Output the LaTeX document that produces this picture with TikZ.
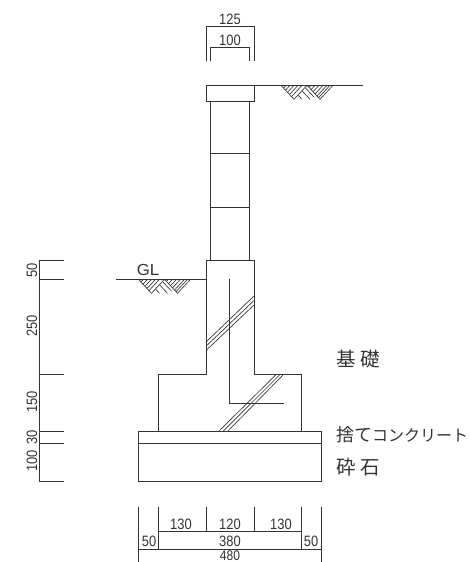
\documentclass[tikz,border=0pt]{standalone}
\usepackage{fontspec}
\newfontfamily\dimfont[FakeStretch=0.86]{Liberation Sans}
\newfontfamily\glfont[FakeStretch=1.05]{Liberation Sans}
\newfontfamily\cjk{Noto Sans CJK JP}
\definecolor{ln}{HTML}{333333}
\tikzset{
  ln/.style={draw=ln,line width=0.95pt},
  thin ln/.style={draw=ln,line width=0.65pt},
  dimtext/.style={inner sep=0pt,text=ln,font=\dimfont\fontsize{15}{15}\selectfont},
  jptext/.style={inner sep=0pt,anchor=west,text=ln,font=\cjk\fontsize{19.5}{20}\selectfont},
  pics/earth/.style={code={
    \draw[thin ln] (0,0)--(13,14) (26,0)--(39,14) (52,0)--(39,14);
    \foreach \a in {5,9,13,17,21}{\draw[thin ln] (\a,0)--({\a/2},{\a*0.54});}
    \draw[thin ln] (26,0)--(13,14);
    \foreach \a in {30,34,38,42,46,49}{\draw[thin ln] (\a,0)--({26+(\a-26)/2},{(\a-26)*0.54});}
    \draw[thin ln] (21,5.4)--(29,14) (17,9.7)--(21,14) (24,2.2)--(33,11.8);
  }}
}
\begin{document}
\begin{tikzpicture}[x=1pt,y=-1pt]
\useasboundingbox (0,0) rectangle (470,562);
% top dimensions
\draw[ln] (206,61)--(206,26)--(254,26)--(254,61);
\draw[ln] (210.3,61)--(210.3,47.7)--(249.7,47.7)--(249.7,61);
\node[dimtext] (d125) at (230,19) {125};
\node[dimtext] (d100) at (230,40) {100};
% cap and post
\draw[ln] (206,85.3) rectangle (254,101);
\draw[ln] (254,85.3)--(363,85.3);
\draw[ln] (210.3,101)--(210.3,260.3) (249.7,101)--(249.7,260.3);
\draw[ln] (210.3,153)--(249.7,153) (210.3,207)--(249.7,207);
\pic at (281,85.3) {earth};
% footing outline
\draw[ln] (206,279.3)--(206,260.3)--(254,260.3)--(254,374.7)--(301.7,374.7)--(301.7,431.7)--(158,431.7)--(158,374.7)--(206,374.7)--(206,279.3);
\draw[ln] (116,279.3)--(206,279.3);
\pic at (138.5,279.3) {earth};
\node[inner sep=0pt,text=ln,font=\glfont\fontsize{16}{16}\selectfont] (gl) at (148,269.5) {GL};
% rebar
\draw[ln] (229.7,279)--(229.7,403.7)--(284,403.7);
% break lines
\draw[thin ln] (206,342)--(254,296) (206,346.2)--(254,300.5) (206,350.5)--(254,305);
\draw[thin ln] (276,374.7)--(218.3,431.7) (279.8,374.7)--(222.7,431.7) (283.3,374.7)--(227.3,431.7);
% slab
\draw[ln] (138.7,431.7) rectangle (321,481);
\draw[ln] (138.7,443)--(321,443);
% bottom dimensions
\draw[ln] (138.7,507.3)--(138.7,562) (321,507.3)--(321,562);
\draw[ln] (158,507.3)--(158,549.3) (301.7,507.3)--(301.7,549.3);
\draw[ln] (206,507.3)--(206,531.3) (254,507.3)--(254,531.3);
\draw[ln] (158,531.3)--(301.7,531.3);
\draw[ln] (138.7,549.3)--(321,549.3);
\node[dimtext] (b130a) at (181,524) {130};
\node[dimtext] (b120) at (230,524) {120};
\node[dimtext] (b130b) at (281,524) {130};
\node[dimtext] (b380) at (230,541.5) {380};
\node[dimtext,font=\dimfont\fontsize{14}{14}\selectfont] (b480) at (230,555.5) {480};
\node[dimtext] (b50a) at (149,541.5) {50};
\node[dimtext] (b50b) at (311,541.5) {50};
% left dimensions
\draw[ln] (39,260.3)--(39,481);
\foreach \yy in {260.3,279.3,374.7,431.7,443,481}{\draw[ln] (39,\yy)--(64.3,\yy);}
\node[dimtext,rotate=90] (l50) at (32,270) {50};
\node[dimtext,rotate=90] (l250) at (32,326) {250};
\node[dimtext,rotate=90] (l150) at (32,402) {150};
\node[dimtext,rotate=90] (l30) at (32,437) {30};
\node[dimtext,rotate=90] (l100) at (32,461) {100};
% labels
\node[jptext] (kiso) at (336,359) {基\hspace{4.5pt}礎};
\node[jptext] (sute) at (336,434.5) {\fontsize{18}{18}\selectfont 捨て\fontsize{16}{16}\selectfont コンクリート};
\node[jptext] (saiseki) at (336,467.5) {砕\hspace{4.5pt}石};
\end{tikzpicture}
\end{document}
